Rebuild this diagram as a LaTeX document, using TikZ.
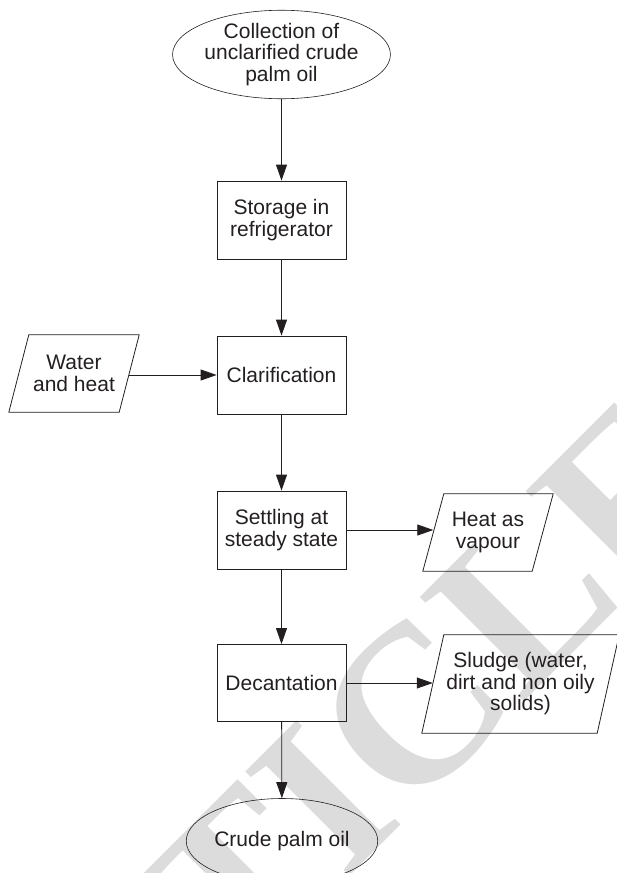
\documentclass[tikz,border=0pt]{standalone}
\usepackage{fontspec}
\setmainfont{Liberation Sans}
\newfontfamily\wmfont{Liberation Serif}
\usetikzlibrary{shapes.geometric,arrows.meta}
\definecolor{ink}{HTML}{231F20}
\definecolor{wm}{HTML}{DCDCDC}
\begin{document}
\begin{tikzpicture}[x=1pt,y=-1pt,
  every node/.style={text=ink, font=\fontsize{21}{21.5}\selectfont, align=center, inner sep=0pt},
  proc/.style={draw=ink, line width=0.8pt, minimum width=129pt, minimum height=78pt},
  term/.style={ellipse, draw=ink, line width=0.6pt, minimum width=171pt, minimum height=85pt},
  iobox/.style={minimum width=#1, minimum height=77pt},
  iopath/.style={draw=ink, line width=0.8pt},
  arr/.style={draw=ink, line width=0.8pt, -{Triangle[length=16pt,width=11pt]}}]
\useasboundingbox (0,0) rectangle (617,873);
% watermark
\node[rotate=45, text=wm, font=\wmfont\bfseries\fontsize{225}{225}\selectfont] (wmark) at (322,800) {ARTICLE};
% main column
\node[term] (start) at (281.5,54.5) {Collection of\\unclarified crude\\palm oil};
\node[proc] (b1) at (281.5,220) {Storage in\\refrigerator};
\node[proc] (b2) at (281.5,375) {Clarification};
\node[proc] (b3) at (281.5,530) {Settling at\\steady state};
\node[proc, minimum height=77pt] (b4) at (281.5,683) {Decantation};
\node[term] (end) at (282,841) {Crude palm oil};
% side inputs / outputs
\node[iobox=110pt] (water) at (74,373.5) {Water\\and heat};
\draw[iopath] ([xshift=10pt]water.north west) -- ([xshift=10pt]water.north east) -- ([xshift=-10pt]water.south east) -- ([xshift=-10pt]water.south west) -- cycle;
\node[iobox=109pt] (heat) at (488,532.5) {Heat as\\vapour};
\draw[iopath] ([xshift=10.5pt]heat.north west) -- ([xshift=10.5pt]heat.north east) -- ([xshift=-10.5pt]heat.south east) -- ([xshift=-10.5pt]heat.south west) -- cycle;
\node[iobox=175pt, minimum height=98pt] (sludge) at (520.5,684) {Sludge (water,\\dirt and non oily\\solids)};
\draw[iopath] ([xshift=11pt]sludge.north west) -- ([xshift=11pt]sludge.north east) -- ([xshift=-11pt]sludge.south east) -- ([xshift=-11pt]sludge.south west) -- cycle;
% connectors
\draw[arr] (start) -- (b1);
\draw[arr] (b1) -- (b2);
\draw[arr] (b2) -- (b3);
\draw[arr] (b3) -- (b4);
\draw[arr] (b4) -- (end);
\draw[arr] (water.east |- b2.west) -- (b2.west);
\draw[arr] (b3.east) -- (b3.east -| heat.west);
\draw[arr] (b4.east) -- (b4.east -| sludge.west);
\end{tikzpicture}
\end{document}
